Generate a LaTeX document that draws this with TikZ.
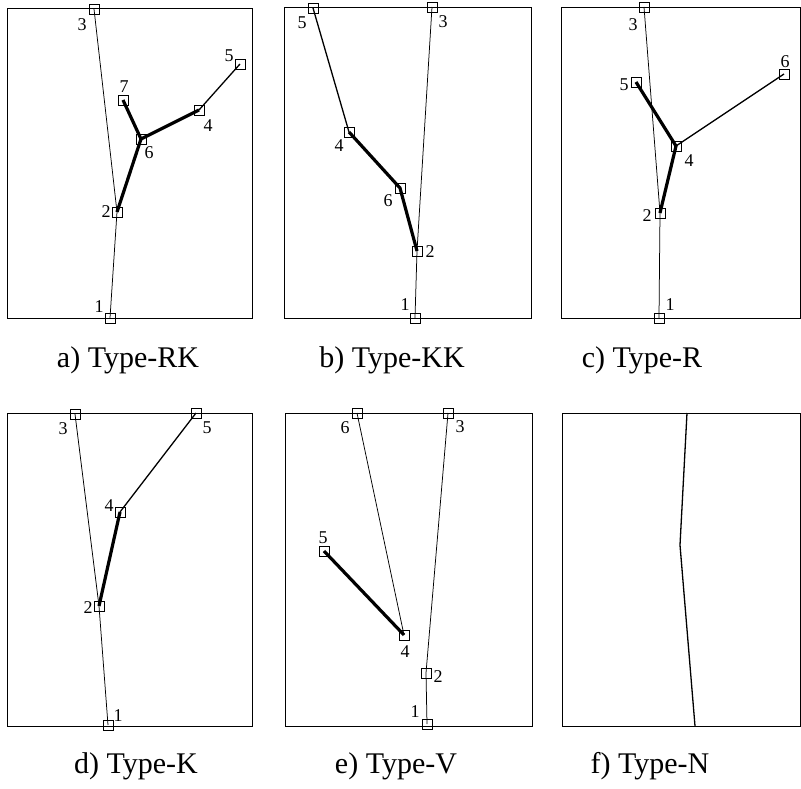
\documentclass[tikz,border=0pt]{standalone}
\usepackage{fontspec}
\setmainfont{Liberation Serif}
\begin{document}
\begin{tikzpicture}[x=1pt,y=-1pt,
 jn/.style={draw, rectangle, minimum size=10pt, inner sep=0pt, line width=0.75pt},
 lab/.style={font=\fontsize{18}{18}\selectfont, inner sep=0pt},
 captxt/.style={font=\fontsize{30}{30}\selectfont, anchor=base, inner sep=0pt},
 frame/.style={line width=0.9pt},
 thinl/.style={line width=0.75pt},
 medl/.style={line width=1.3pt},
 thickl/.style={line width=3.2pt}]
\useasboundingbox (0,0) rectangle (801,789);

% ---------- panel a ----------
\draw[frame] (7,8) rectangle (252,318);
\node[jn] (a1) at (110,318) {};
\node[jn] (a2) at (117,212) {};
\node[jn] (a3) at (94,9) {};
\node[jn] (a4) at (199,110) {};
\node[jn] (a5) at (240,64) {};
\node[jn] (a6) at (141,139) {};
\node[jn] (a7) at (123,100) {};
\node[lab] (la1) at (99,307) {1};
\node[lab] (la2) at (106,212) {2};
\node[lab] (la3) at (82,25) {3};
\node[lab] (la4) at (208,126) {4};
\node[lab] (la5) at (229,56) {5};
\node[lab] (la6) at (149,153) {6};
\node[lab] (la7) at (124,87) {7};
\draw[thinl] (a1.center) -- (a2.center) -- (a3.center);
\draw[thickl] (a2.center) -- (a6.center) -- (a7.center);
\draw[thickl] (a6.center) -- (a4.center);
\draw[medl] (a4.center) -- (a5.center);
\node[captxt] (capa) at (128,367) {a) Type-RK};

% ---------- panel b ----------
\draw[frame] (284,7) rectangle (531,318);
\node[jn] (b1) at (415,318) {};
\node[jn] (b2) at (417,251) {};
\node[jn] (b3) at (432,7) {};
\node[jn] (b4) at (349,132) {};
\node[jn] (b5) at (313,8) {};
\node[jn] (b6) at (400,188) {};
\node[lab] (lb1) at (405,305) {1};
\node[lab] (lb2) at (430,252) {2};
\node[lab] (lb3) at (443,22) {3};
\node[lab] (lb4) at (339,146) {4};
\node[lab] (lb5) at (302,23) {5};
\node[lab] (lb6) at (388,201) {6};
\draw[thinl] (b1.center) -- (b2.center) -- (b3.center);
\draw[thickl] (b2.center) -- (b6.center) -- (b4.center);
\draw[medl] (b4.center) -- (b5.center);
\node[captxt] (capb) at (392,367) {b) Type-KK};

% ---------- panel c ----------
\draw[frame] (561,7) rectangle (800,318);
\node[jn] (c1) at (659,318) {};
\node[jn] (c2) at (660,213) {};
\node[jn] (c3) at (644,7) {};
\node[jn] (c4) at (676,146) {};
\node[jn] (c5) at (636,82) {};
\node[jn] (c6) at (784,74) {};
\node[lab] (lc1) at (670,305) {1};
\node[lab] (lc2) at (647,216) {2};
\node[lab] (lc3) at (633,25) {3};
\node[lab] (lc4) at (689,161) {4};
\node[lab] (lc5) at (624,85) {5};
\node[lab] (lc6) at (785,62) {6};
\draw[thinl] (c1.center) -- (c2.center) -- (c3.center);
\draw[thickl] (c2.center) -- (c4.center) -- (c5.center);
\draw[medl] (c4.center) -- (c6.center);
\node[captxt] (capc) at (642,367) {c) Type-R};

% ---------- panel d ----------
\draw[frame] (7,413) rectangle (252,726);
\node[jn] (d1) at (108,725) {};
\node[jn] (d2) at (99,606) {};
\node[jn] (d3) at (75,414) {};
\node[jn] (d4) at (120,512) {};
\node[jn] (d5) at (196,413) {};
\node[lab] (ld1) at (118,716) {1};
\node[lab] (ld2) at (88,608) {2};
\node[lab] (ld3) at (63,429) {3};
\node[lab] (ld4) at (109,506) {4};
\node[lab] (ld5) at (207,428) {5};
\draw[thinl] (d1.center) -- (d2.center) -- (d3.center);
\draw[thickl] (d2.center) -- (d4.center);
\draw[medl] (d4.center) -- (d5.center);
\node[captxt] (capd) at (136,773) {d) Type-K};

% ---------- panel e ----------
\draw[frame] (285,413) rectangle (532,726);
\node[jn] (e1) at (427,724) {};
\node[jn] (e2) at (426,673) {};
\node[jn] (e3) at (448,413) {};
\node[jn] (e4) at (404,635) {};
\node[jn] (e5) at (324,551) {};
\node[jn] (e6) at (357,413) {};
\node[lab] (le1) at (415,712) {1};
\node[lab] (le2) at (438,677) {2};
\node[lab] (le3) at (460,427) {3};
\node[lab] (le4) at (405,652) {4};
\node[lab] (le5) at (323,538) {5};
\node[lab] (le6) at (345,428) {6};
\draw[thinl] (e1.center) -- (e2.center) -- (e3.center);
\draw[thinl] (e4.center) -- (e6.center);
\draw[thickl] (e4.center) -- (e5.center);
\node[captxt] (cape) at (396,773) {e) Type-V};

% ---------- panel f ----------
\draw[frame] (562,413) rectangle (800,726);
\coordinate (f1) at (687,413);
\coordinate (f2) at (680,545);
\coordinate (f3) at (695,726);
\draw[medl] (f1) -- (f2) -- (f3);
\node[captxt] (capf) at (650,773) {f) Type-N};
\end{tikzpicture}
\end{document}
